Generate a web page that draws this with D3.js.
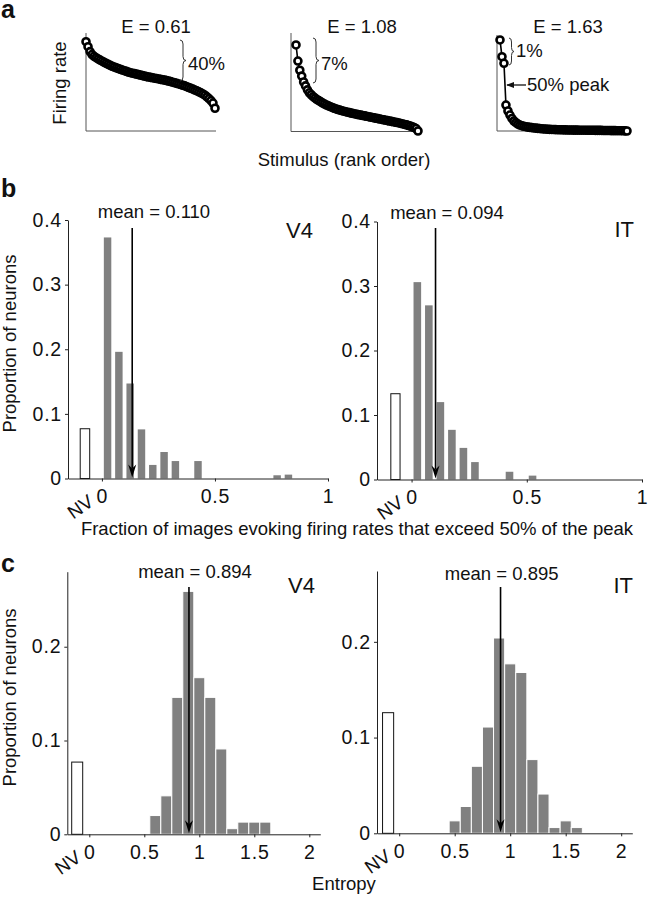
<!DOCTYPE html>
<html><head><meta charset="utf-8">
<script src="https://cdn.jsdelivr.net/npm/d3@7"></script>
<style>body{margin:0;background:#fff}</style>
</head><body>
<script>
// ---------------- DATA ----------------
// Panel a: normalized firing rate of stimuli in rank order (1 = top of y axis)
const eLabels = ["E = 0.61", "E = 1.08", "E = 1.63"];
const braceLabels = ["40%", "7%", "1%"];
const peakNote = "50% peak";
const curveA1 = [0.911,0.86,0.81,0.78,0.762,0.748,0.735,0.724,0.712,0.70,0.69,0.68,0.67,0.66,0.653,0.645,0.637,0.63,0.622,0.615,0.608,0.601,0.595,0.59,0.585,0.58,0.575,0.57,0.565,0.56,0.555,0.551,0.547,0.543,0.539,0.535,0.531,0.527,0.523,0.519,0.514,0.509,0.504,0.498,0.492,0.486,0.48,0.474,0.467,0.46,0.452,0.444,0.436,0.427,0.418,0.41,0.40,0.39,0.378,0.365,0.348,0.33,0.31,0.285,0.232];
const curveA2 = [0.878,0.714,0.62,0.56,0.50,0.46,0.42,0.39,0.37,0.35,0.335,0.32,0.31,0.297,0.285,0.275,0.265,0.256,0.248,0.24,0.232,0.225,0.219,0.213,0.207,0.202,0.197,0.192,0.187,0.182,0.178,0.174,0.17,0.166,0.162,0.158,0.154,0.15,0.146,0.142,0.138,0.134,0.13,0.126,0.122,0.118,0.114,0.11,0.106,0.102,0.098,0.094,0.09,0.086,0.082,0.077,0.072,0.067,0.062,0.056,0.05,0.043,0.035,0.025,0.0];
const curveA3 = [0.929,0.758,0.691,0.265,0.204,0.163,0.128,0.102,0.085,0.071,0.061,0.054,0.048,0.044,0.040,0.037,0.034,0.031,0.029,0.027,0.025,0.023,0.021,0.020,0.018,0.017,0.016,0.015,0.014,0.013,0.012,0.012,0.011,0.011,0.010,0.010,0.010,0.009,0.009,0.009,0.008,0.008,0.008,0.008,0.007,0.007,0.007,0.007,0.006,0.006,0.006,0.006,0.005,0.005,0.005,0.005,0.004,0.004,0.004,0.003,0.003,0.003,0.002,0.001,0.0];

// Panel b: fraction of images exceeding 50% of peak (bin centers, width 0.05)
const binsB = [0.025,0.075,0.125,0.175,0.225,0.275,0.325,0.375,0.425,0.475,0.525,0.575,0.625,0.675,0.725,0.775,0.825,0.875,0.925,0.975];
const propB_V4 = [0.373,0.196,0.147,0.076,0.021,0.041,0.027,0,0.027,0,0,0,0,0,0,0.005,0.006,0,0,0];
const propB_IT = [0.306,0.270,0.120,0.077,0.049,0.027,0,0,0.012,0,0.006,0,0,0,0,0,0,0,0,0];
const nvB = [0.077, 0.133];          // V4, IT  (non-visual neurons)
const meanB = ["0.110", "0.094"];
const arrowB = [0.134, 0.104];       // arrow positions as drawn

// Panel c: entropy (bin centers, width 0.1)
const binsC_V4 = [0.6,0.7,0.8,0.9,1.0,1.1,1.2,1.3,1.4,1.5,1.6];
const propC_V4 = [0.020,0.041,0.146,0.259,0.167,0.146,0.091,0.006,0.013,0.013,0.013];
const binsC_IT = [0.5,0.6,0.7,0.8,0.9,1.0,1.1,1.2,1.3,1.4,1.5,1.6];
const propC_IT = [0.013,0.028,0.070,0.111,0.204,0.177,0.168,0.077,0.041,0.006,0.013,0.006];
const nvC = [0.077, 0.126];
const meanC = ["0.894", "0.895"];
const arrowC = [0.906, 0.913];

const areas = ["V4", "IT"];
const ticksBx = [0, 0.5, 1], ticksBy = [0, 0.1, 0.2, 0.3, 0.4];
const ticksCx = [0, 0.5, 1, 1.5, 2], ticksCy = [0, 0.1, 0.2];

// ---------------- DRAW ----------------
const FONT = '"Liberation Sans", Arial, Helvetica, sans-serif';
const FS = 18.5;
const svg = d3.select("body").append("svg").attr("width", 649).attr("height", 900)
  .style("font-family", FONT);

function txt(x, y, s, opts = {}) {
  const t = svg.append("text").attr("x", x).attr("y", y).text(s)
    .attr("font-size", opts.size || FS).attr("text-anchor", opts.anchor || "start")
    .attr("fill", "#111");
  if (opts.weight) t.attr("font-weight", opts.weight);
  if (opts.rotate !== undefined) t.attr("transform", `rotate(${opts.rotate},${x},${y})`);
  return t;
}

// panel letters
txt(1, 18, "a", {size: 25, weight: "bold"});
txt(1, 197, "b", {size: 25, weight: "bold"});
txt(1, 572, "c", {size: 25, weight: "bold"});

// ---- Panel a ----
const aFrames = [
  {vals: curveA1, left: 86, right: 216, top: 33, bottom: 131, first: 86, last: 215, lx: 156},
  {vals: curveA2, left: 291, right: 419, top: 33, bottom: 131.5, first: 296, last: 418, lx: 362},
  {vals: curveA3, left: 497, right: 627, top: 35, bottom: 131, first: 500, last: 627, lx: 568}
];
const braces = [
  {x: 180, y1: 40, y2: 81, w: 6, tx: 188, ty: 70},
  {x: 313, y1: 38, y2: 83, w: 6, tx: 321, ty: 70},
  {x: 509, y1: 38, y2: 65, w: 5, tx: 516, ty: 57}
];
function bracePath(x, y1, y2, w) {
  const ym = (y1 + y2) / 2, q = 4, h = w / 2;
  return `M${x},${y1} Q${x + h},${y1} ${x + h},${y1 + q} L${x + h},${ym - q} Q${x + h},${ym} ${x + w},${ym}` +
         ` Q${x + h},${ym} ${x + h},${ym + q} L${x + h},${y2 - q} Q${x + h},${y2} ${x},${y2}`;
}
aFrames.forEach((f, k) => {
  const x = d3.scaleLinear().domain([0, f.vals.length - 1]).range([f.first, f.last]);
  const y = d3.scaleLinear().domain([0, 1]).range([131, 33]);
  const g = svg.append("g");
  g.append("line").attr("x1", f.left).attr("x2", f.left).attr("y1", f.top).attr("y2", f.bottom)
    .attr("stroke", "#555").attr("stroke-width", 1);
  g.append("line").attr("x1", f.left).attr("x2", f.right).attr("y1", f.bottom).attr("y2", f.bottom)
    .attr("stroke", "#555").attr("stroke-width", 1);
  g.append("path").datum(f.vals)
    .attr("d", d3.line().x((d, i) => x(i)).y(d => y(d)))
    .attr("fill", "none").attr("stroke", "#000").attr("stroke-width", 1.6);
  g.selectAll("circle").data(f.vals).join("circle")
    .attr("cx", (d, i) => x(i)).attr("cy", d => y(d)).attr("r", 3.5)
    .attr("fill", "#fff").attr("stroke", "#000").attr("stroke-width", 2.6);
  txt(f.lx, 33, eLabels[k], {anchor: "middle"});
  const b = braces[k];
  svg.append("path").attr("d", bracePath(b.x, b.y1, b.y2, b.w))
    .attr("fill", "none").attr("stroke", "#333").attr("stroke-width", 1);
  txt(b.tx, b.ty, braceLabels[k]);
});
// arrow to 50% peak
svg.append("defs").append("marker").attr("id", "ah").attr("viewBox", "0 0 10 10")
  .attr("refX", 9).attr("refY", 5).attr("markerWidth", 6).attr("markerHeight", 6)
  .attr("orient", "auto").append("path").attr("d", "M0,1 L10,5 L0,9 Z").attr("fill", "#111");
svg.append("line").attr("x1", 526).attr("y1", 85).attr("x2", 507).attr("y2", 85)
  .attr("stroke", "#111").attr("stroke-width", 1.3).attr("marker-end", "url(#ah)");
txt(527, 91, peakNote);
txt(66, 83, "Firing rate", {anchor: "middle", rotate: -90});
txt(344, 166, "Stimulus (rank order)", {anchor: "middle"});

// ---- Histogram helper ----
function hist(o) {
  const x = d3.scaleLinear().domain(o.xd).range(o.xr);
  const y = d3.scaleLinear().domain(o.yd).range(o.yr);
  const g = svg.append("g");
  // NV bar
  g.append("rect").attr("x", x(o.nvc - o.nvw / 2)).attr("width", x(o.nvc + o.nvw / 2) - x(o.nvc - o.nvw / 2))
    .attr("y", y(o.nv)).attr("height", y(0) - y(o.nv))
    .attr("fill", "#fff").attr("stroke", "#111").attr("stroke-width", 1);
  // bars
  const bw = o.bin * o.frac;
  g.selectAll("rect.bar").data(o.bins.map((c, i) => ({c, v: o.vals[i]})).filter(d => d.v > 0))
    .join("rect").attr("class", "bar")
    .attr("x", d => x(d.c - bw / 2)).attr("width", x(bw) - x(0))
    .attr("y", d => y(d.v)).attr("height", d => y(0) - y(d.v))
    .attr("fill", "#808080").attr("stroke", o.gap ? "#fff" : "none").attr("stroke-width", o.gap ? 1 : 0);
  // axes
  const ax = g.append("g").attr("transform", `translate(0,${y(0)})`)
    .call(d3.axisBottom(x).tickValues(o.xt).tickFormat(d3.format("")).tickSizeInner(3).tickSizeOuter(0).tickPadding(8));
  const ay = g.append("g").attr("transform", `translate(${x(o.xd[0])},0)`)
    .call(d3.axisLeft(y).tickValues(o.yt).tickFormat(d => d === 0 ? "0" : d3.format(".1f")(d)).tickSizeInner(3).tickSizeOuter(0).tickPadding(3));
  [ax, ay].forEach(a => {
    a.selectAll("text").attr("font-size", 19.5).attr("font-family", FONT).attr("fill", "#111")
      .attr("letter-spacing", 0.8);
    a.selectAll("path,line").attr("stroke", "#222");
  });
  // NV label
  const nx = x(0) - 7, ny = y(0) + o.nvdy;
  txt(nx, ny, "NV", {anchor: "end", rotate: -35, size: 19});
  // mean arrow
  const axp = x(o.arrow);
  g.append("line").attr("x1", axp).attr("x2", axp).attr("y1", o.arrowTop).attr("y2", y(0) - 10)
    .attr("stroke", "#000").attr("stroke-width", 1.6);
  g.append("path").attr("d", `M${axp - 4},${y(0) - 14} L${axp},${y(0) - 10} L${axp + 4},${y(0) - 14} L${axp},${y(0) - 1} Z`).attr("fill", "#000");
  txt(o.mx, o.my, "mean = " + o.mean, {anchor: "middle"});
  txt(o.ax, o.ay, o.area, {anchor: "end", size: 22});
}

hist({xd: [-0.15, 1], xr: [68, 328], yd: [0, 0.4], yr: [478.5, 220], xt: ticksBx, yt: ticksBy,
  bins: binsB, vals: propB_V4, bin: 0.05, frac: 0.66, gap: false, nv: nvB[0], nvc: -0.075, nvw: 0.042,
  arrow: arrowB[0], arrowTop: 228, mean: meanB[0], mx: 154, my: 218, area: areas[0], ax: 313, ay: 238, nvdy: 26});
hist({xd: [-0.15, 1], xr: [377, 642], yd: [0, 0.4], yr: [479.5, 221.5], xt: ticksBx, yt: ticksBy,
  bins: binsB, vals: propB_IT, bin: 0.05, frac: 0.66, gap: false, nv: nvB[1], nvc: -0.07, nvw: 0.04,
  arrow: arrowB[1], arrowTop: 228, mean: meanB[1], mx: 447, my: 219, area: areas[1], ax: 634, ay: 237, nvdy: 26});
txt(357, 535, "Fraction of images evoking firing rates that exceed 50% of the peak", {anchor: "middle"});
txt(16, 343.5, "Proportion of neurons", {anchor: "middle", rotate: -90});

hist({xd: [-0.2, 2.1], xr: [67.3, 320.3], yd: [0, 0.28], yr: [834.3, 571.7], xt: ticksCx, yt: ticksCy,
  bins: binsC_V4, vals: propC_V4, bin: 0.1, frac: 1, gap: true, nv: nvC[0], nvc: -0.11, nvw: 0.1,
  arrow: arrowC[0], arrowTop: 587, mean: meanC[0], mx: 195, my: 578, area: areas[0], ax: 315, ay: 593, nvdy: 26});
hist({xd: [-0.2, 2.1], xr: [377, 632.3], yd: [0, 0.274], yr: [833.3, 571], xt: ticksCx, yt: ticksCy,
  bins: binsC_IT, vals: propC_IT, bin: 0.1, frac: 1, gap: true, nv: nvC[1], nvc: -0.1, nvw: 0.1,
  arrow: arrowC[1], arrowTop: 587, mean: meanC[1], mx: 501.7, my: 580, area: areas[1], ax: 633, ay: 593, nvdy: 26});
txt(344, 890, "Entropy", {anchor: "middle"});
txt(16, 697.5, "Proportion of neurons", {anchor: "middle", rotate: -90});
</script>
</body></html>
